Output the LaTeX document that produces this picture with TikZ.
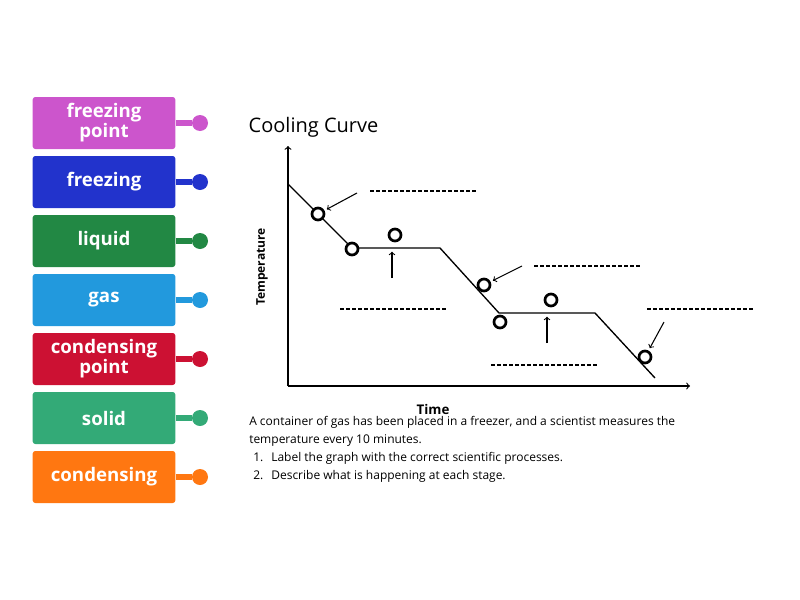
\documentclass[tikz,border=0pt]{standalone}
\usepackage{fontspec}
\setmainfont{Open Sans}
\usetikzlibrary{positioning}
\tikzset{
  tag/.style={rounded corners=2pt,minimum width=107pt,minimum height=39pt,text=white,font=\bfseries\fontsize{14}{15}\selectfont,align=center,inner sep=1pt},
  knob/.style={circle,inner sep=0pt,minimum size=12pt},
  ring/.style={circle,draw,line width=2pt,inner sep=0pt,minimum size=9pt},
  blank/.style={dashed,dash pattern=on 3pt off 1.5pt,line width=0.8pt},
  pointer/.style={->,line width=0.8pt,shorten >=2pt},
}
\begin{document}
\begin{tikzpicture}[x=0.75pt,y=-0.75pt]
\useasboundingbox (0,0) rectangle (800,600);
% answer tags
\foreach \y/\c/\t [count=\i] in {123/cc55cc/{freezing\\point},182/2233cc/freezing,241/228844/liquid,300/2299dd/gas,359/cc1133/{condensing\\point},418/33aa77/solid,477/ff7711/condensing}{
  \definecolor{tc\i}{HTML}{\c}
  \node[tag,fill=tc\i] (tag\i) at (104,\y) {\t};
  \node[knob,fill=tc\i] (knob\i) at (200,\y) {};
  \draw[tc\i,line width=4pt] (tag\i.east) -- (knob\i);
}
% graph
\node[anchor=west,font=\fontsize{15}{15}\selectfont] (title) at (244,127) {Cooling Curve};
\coordinate (o) at (288,386);
\coordinate (ytop) at (288,146);
\coordinate (xend) at (690,386);
\draw[->,line width=0.9pt] (o) -- (ytop);
\draw[->,line width=0.9pt] (o) -- (xend);
\node[rotate=90,font=\bfseries\fontsize{9}{9}\selectfont] (ylab) at (262,267) {Temperature};
\node[font=\bfseries\fontsize{10}{10}\selectfont] (xlab) at (433,409) {Time};
\draw[line width=1pt] (288,184) -- (352,248) -- (440,248) -- (499,313) -- (595,313) -- (655,378);
\foreach \x/\y [count=\i] in {318/214,352/249,395/235,484/285,500/322,551/300,645/357}
  \node[ring,fill=white] (r\i) at (\x,\y) {};
\draw[pointer] (357,193) -- (r1);
\draw[pointer] (522,266) -- (r4);
\draw[pointer] (664,322) -- (r7);
\draw[pointer] (392,278) -- (392,249);
\draw[pointer] (547,343) -- (547,314);
\foreach \x/\y in {370/191,340/309,534/266,647/309,491/365}
  \draw[blank] (\x,\y) -- ++(108,0);
\node[anchor=north west,align=left,font=\fontsize{9}{13.5}\selectfont,inner sep=0pt] (task) at (249,416) {A container of gas has been placed in a freezer, and a scientist measures the\\temperature every 10 minutes.\\
\hspace*{3pt}1.\hspace{6pt}Label the graph with the correct scientific processes.\\
\hspace*{3pt}2.\hspace{6pt}Describe what is happening at each stage.};
\end{tikzpicture}
\end{document}
